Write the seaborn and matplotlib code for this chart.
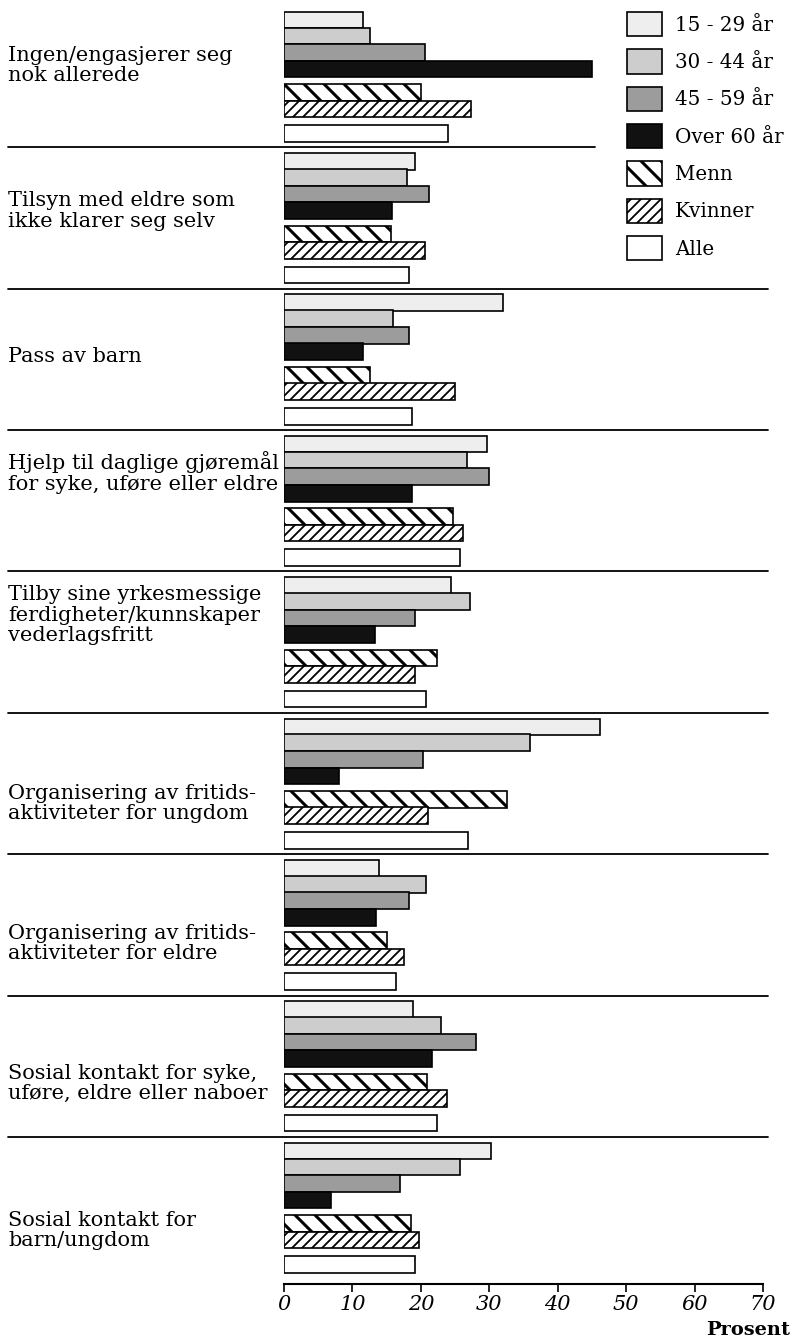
import numpy as np
import matplotlib
matplotlib.use("Agg")
import matplotlib.pyplot as plt
import matplotlib.patches as mpatches
import seaborn as sns

# Data (prosent)
categories = [
    "Ingen/engasjerer seg\nnok allerede",
    "Tilsyn med eldre som\nikke klarer seg selv",
    "Pass av barn",
    "Hjelp til daglige gjøremål\nfor syke, uføre eller eldre",
    "Tilby sine yrkesmessige\nferdigheter/kunnskaper\nvederlagsfritt",
    "Organisering av fritids-\naktiviteter for ungdom",
    "Organisering av fritids-\naktiviteter for eldre",
    "Sosial kontakt for syke,\nuføre, eldre eller naboer",
    "Sosial kontakt for\nbarn/ungdom",
]
age_15_29 = [11.6, 19.1, 32.0, 29.6, 24.4, 46.2, 13.9, 18.9, 30.3]
age_30_44 = [12.5, 18.0, 16.0, 26.8, 27.2, 35.9, 20.8, 22.9, 25.7]
age_45_59 = [20.6, 21.2, 18.2, 29.9, 19.2, 20.3, 18.3, 28.0, 16.9]
age_60 = [45.0, 15.8, 11.5, 18.7, 13.3, 8.1, 13.4, 21.6, 6.9]
menn = [20.0, 15.6, 12.5, 24.7, 22.4, 32.6, 15.1, 20.9, 18.6]
kvinner = [27.3, 20.6, 25.0, 26.2, 19.2, 21.1, 17.5, 23.8, 19.8]
alle = [23.9, 18.2, 18.7, 25.7, 20.7, 26.9, 16.3, 22.4, 19.2]

series_names = ["15 - 29 år", "30 - 44 år", "45 - 59 år", "Over 60 år",
                "Menn", "Kvinner", "Alle"]
x_ticks = [0, 10, 20, 30, 40, 50, 60, 70]

# Layout / style
offsets = [0.099, 0.212, 0.329, 0.446, 0.612, 0.728, 0.902]
face = ["#eeeeee", "#cdcdcd", "#9c9c9c", "#111111", "white", "white", "white"]
hatches = [None, None, None, None, "\\\\", "////", None]
label_pos = [0.42, 0.45, 0.48, 0.30, 0.31, 0.64, 0.63, 0.62, 0.66]

# higher dpi -> wider hatch spacing; S converts sizes tuned at 100 dpi
DPI = 120
S = 100 / DPI

sns.set_style("white")
plt.rcParams["font.family"] = ["DejaVu Serif"]
plt.rcParams["text.color"] = "black"
plt.rcParams["xtick.color"] = "black"
plt.rcParams["hatch.linewidth"] = 2.2 * S

W, H = 796, 1343
fig = plt.figure(figsize=(W / DPI, H / DPI), dpi=DPI)
ax = fig.add_axes([284 / W, 1 - 1284 / H, 479 / W, 1278 / H])

all_series = [age_15_29, age_30_44, age_45_59, age_60, menn, kvinner, alle]
idx = np.arange(len(categories))
for s, (vals, off) in enumerate(zip(all_series, offsets)):
    sns.barplot(x=vals, y=idx + off, orient="h", native_scale=True,
                width=0.118, color=face[s], saturation=1, errorbar=None,
                edgecolor="black", linewidth=1.2 * S, hatch=hatches[s], ax=ax)

for p in ax.patches:
    if p.get_hatch() == "////" and hasattr(p, "set_hatch_linewidth"):
        p.set_hatch_linewidth(1.3 * S)

ax.set_xlim(0, 70)
ax.set_ylim(9.04, 0)
ax.set_xlabel("")
ax.set_ylabel("")
ax.set_yticks([])
ax.set_xticks(x_ticks)
ax.set_xticklabels([str(t) for t in x_ticks], fontsize=15 * S, style="italic")
ax.tick_params(axis="x", direction="out", length=6 * S, width=1.2 * S,
               pad=2 * S, bottom=True, color="black", labelcolor="black")
for side in ["top", "right", "left"]:
    ax.spines[side].set_visible(False)
ax.spines["bottom"].set_linewidth(1.5 * S)
ax.spines["bottom"].set_color("black")

# separator lines between groups
for i in range(1, len(categories)):
    right = 0.649 if i == 1 else 1.01
    ax.axhline(i, xmin=-0.576, xmax=right, color="black", lw=1.3 * S,
               clip_on=False)

# group labels
for i, (lab, lp) in enumerate(zip(categories, label_pos)):
    ax.text(-0.576, i + lp, lab, transform=ax.get_yaxis_transform(),
            ha="left", va="center", fontsize=15 * S, linespacing=1.1,
            color="black")

fig.text(790 / W, 1 - 1330 / H, "Prosent", ha="right", va="center",
         fontsize=14 * S, fontweight="bold", color="black")

handles = [mpatches.Patch(facecolor=face[s], edgecolor="black",
                          hatch=hatches[s], linewidth=1.2 * S)
           for s in range(len(series_names))]
leg = fig.legend(handles, series_names, loc="upper left",
                 bbox_to_anchor=(627 / W, 1 - 12 / H), frameon=False,
                 fontsize=14.3 * S, handlelength=1.76, handleheight=1.5,
                 labelspacing=0.66, handletextpad=0.65, borderpad=0,
                 borderaxespad=0)
for p in leg.get_patches():
    if p.get_hatch() == "////" and hasattr(p, "set_hatch_linewidth"):
        p.set_hatch_linewidth(1.3 * S)

fig.savefig("out.png", dpi=DPI)
